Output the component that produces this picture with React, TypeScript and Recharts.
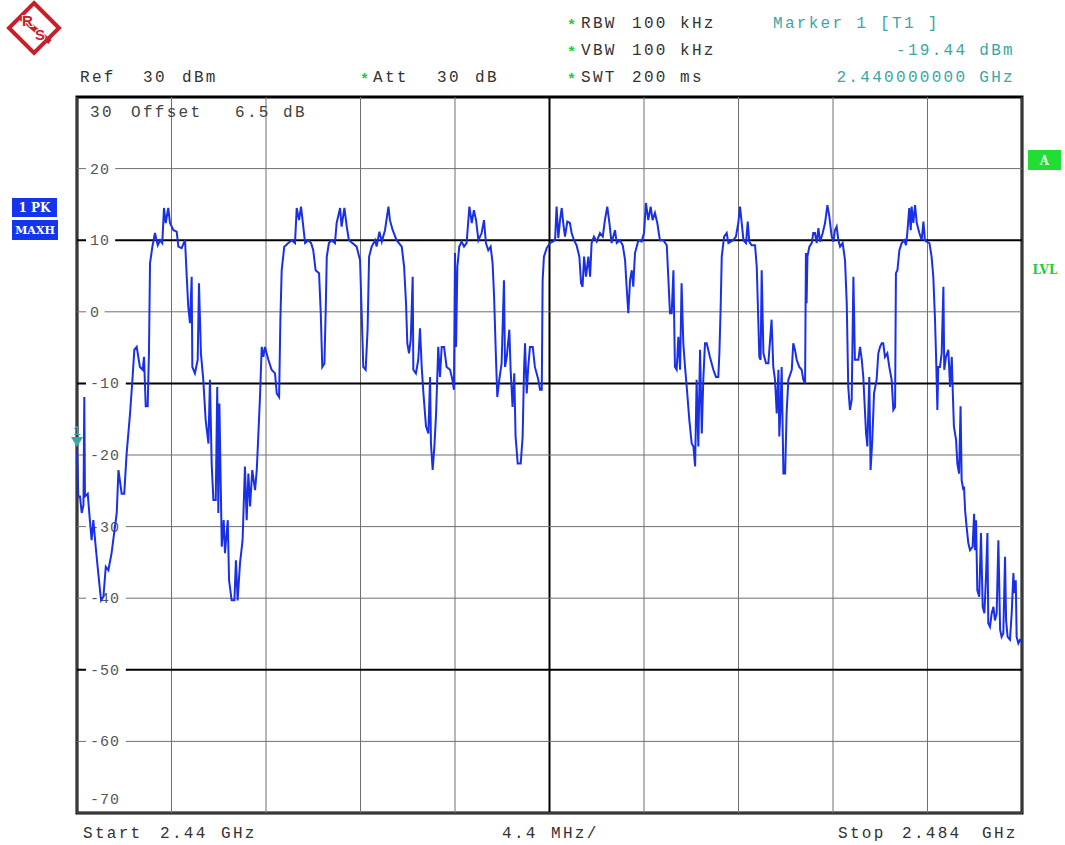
import React from "react";
import { LineChart, Line, XAxis, YAxis, ReferenceLine, ReferenceArea, ReferenceDot } from "recharts";

const START_MHZ = 2440;
const STOP_MHZ = 2484;

// trace: offset above start (MHz) and level (dBm)
const traceOffsetMHz = [
  0.0, 0.03, 0.06, 0.14, 0.22, 0.3, 0.34, 0.37, 0.5, 0.61, 0.68, 0.76, 0.87, 0.99, 1.12, 1.23, 1.34, 1.46, 1.61, 1.85,
  1.93, 2.08, 2.2, 2.31, 2.47, 2.58, 2.67, 2.78, 2.93, 3.06, 3.12, 3.2, 3.29, 3.35, 3.4, 3.51, 3.63, 3.76, 3.87, 3.97,
  4.05, 4.13, 4.25, 4.33, 4.49, 4.64, 4.72, 4.87, 5.03, 5.11, 5.18, 5.26, 5.34, 5.37, 5.49, 5.62, 5.68, 5.77, 5.88, 5.99,
  6.12, 6.19, 6.27, 6.35, 6.46, 6.53, 6.58, 6.63, 6.74, 6.83, 6.89, 7.02, 7.08, 7.2, 7.33, 7.4, 7.48, 7.59, 7.71, 7.82,
  7.9, 7.98, 8.06, 8.16, 8.29, 8.37, 8.44, 8.52, 8.6, 8.68, 8.75, 8.91, 9.06, 9.22, 9.3, 9.41, 9.47, 9.53, 9.65, 9.84,
  10.0, 10.15, 10.23, 10.34, 10.43, 10.51, 10.62, 10.77, 10.9, 11.0, 11.11, 11.27, 11.35, 11.42, 11.52, 11.58, 11.63,
  11.73, 11.86, 12.01, 12.09, 12.25, 12.32, 12.45, 12.56, 12.66, 12.82, 13.02, 13.18, 13.25, 13.33, 13.44, 13.53, 13.6,
  13.72, 13.88, 13.95, 14.08, 14.19, 14.34, 14.5, 14.57, 14.7, 14.88, 15.12, 15.23, 15.32, 15.38, 15.46, 15.54, 15.63,
  15.66, 15.78, 15.89, 15.97, 16.05, 16.13, 16.25, 16.36, 16.44, 16.48, 16.56, 16.64, 16.72, 16.82, 16.9, 16.98, 17.09,
  17.21, 17.37, 17.48, 17.55, 17.6, 17.65, 17.71, 17.8, 17.91, 18.02, 18.14, 18.27, 18.38, 18.48, 18.58, 18.69, 18.84,
  18.95, 19.04, 19.15, 19.26, 19.35, 19.42, 19.51, 19.57, 19.66, 19.77, 19.88, 19.93, 20.01, 20.13, 20.19, 20.28, 20.36,
  20.42, 20.52, 20.66, 20.75, 20.81, 20.86, 20.94, 21.01, 21.09, 21.22, 21.32, 21.48, 21.56, 21.64, 21.68, 21.74, 21.87,
  22.02, 22.15, 22.26, 22.33, 22.41, 22.49, 22.57, 22.64, 22.72, 22.83, 22.95, 23.03, 23.14, 23.26, 23.39, 23.47, 23.54,
  23.61, 23.7, 23.81, 23.89, 23.96, 24.07, 24.2, 24.35, 24.48, 24.58, 24.69, 24.79, 24.89, 25.05, 25.13, 25.28, 25.41,
  25.52, 25.59, 25.67, 25.75, 25.83, 25.9, 25.98, 26.14, 26.29, 26.4, 26.49, 26.6, 26.71, 26.8, 26.91, 27.02, 27.14,
  27.3, 27.46, 27.53, 27.61, 27.69, 27.77, 27.84, 27.92, 28.0, 28.08, 28.15, 28.23, 28.31, 28.39, 28.51, 28.62, 28.7,
  28.78, 28.85, 28.93, 29.01, 29.09, 29.16, 29.24, 29.32, 29.47, 29.63, 29.75, 29.86, 29.91, 29.97, 30.02, 30.13, 30.25,
  30.33, 30.44, 30.56, 30.68, 30.79, 30.87, 30.95, 31.03, 31.15, 31.23, 31.3, 31.41, 31.57, 31.65, 31.72, 31.77, 31.83,
  31.88, 31.96, 32.08, 32.19, 32.34, 32.42, 32.5, 32.58, 32.66, 32.7, 32.76, 32.81, 32.89, 32.97, 33.04, 33.12, 33.28,
  33.35, 33.43, 33.51, 33.63, 33.74, 33.82, 33.9, 33.94, 33.97, 34.01, 34.1, 34.21, 34.28, 34.36, 34.44, 34.52, 34.6,
  34.72, 34.83, 34.94, 35.03, 35.14, 35.22, 35.29, 35.37, 35.45, 35.53, 35.65, 35.76, 35.84, 35.91, 35.99, 36.07, 36.15,
  36.22, 36.3, 36.38, 36.46, 36.54, 36.61, 36.74, 36.8, 36.89, 36.95, 37.03, 37.11, 37.23, 37.31, 37.39, 37.47, 37.54,
  37.62, 37.73, 37.82, 37.93, 38.01, 38.09, 38.13, 38.2, 38.29, 38.4, 38.51, 38.6, 38.66, 38.75, 38.82, 38.86, 38.94,
  39.02, 39.1, 39.22, 39.33, 39.41, 39.48, 39.56, 39.69, 39.79, 39.87, 39.95, 40.0, 40.06, 40.1, 40.18, 40.26, 40.34,
  40.38, 40.46, 40.57, 40.65, 40.73, 40.77, 40.83, 40.93, 40.99, 41.07, 41.14, 41.19, 41.27, 41.3, 41.35, 41.42, 41.5,
  41.58, 41.7, 41.77, 41.81, 41.86, 41.92, 42.01, 42.09, 42.17, 42.25, 42.33, 42.39, 42.43, 42.51, 42.59, 42.67, 42.74,
  42.82, 42.9, 42.98, 43.05, 43.13, 43.21, 43.26, 43.33, 43.44, 43.52, 43.6, 43.64, 43.71, 43.75, 43.83, 43.91, 44.0,
];

const traceLevelDbm = [
  -19.4, -22, -25.8, -25.8, -28.1, -27, -11.9, -25.8, -25.4, -29.5, -31.9, -29.1, -32.8, -36.5, -40.3, -39.8, -35.6, -36.1, -33.7, -28.1,
  -22.1, -25.4, -25.4, -19.8, -14.2, -9.5, -5.3, -4.9, -7.7, -8.1, -6.3, -13.2, -13.2, -5.8, 6.8, 9.1, 11.0, 9.3, 10.0, 9.6,
  14.5, 12.4, 14.5, 12.4, 11.4, 11.2, 9.1, 8.9, 10.0, 4.9, 0.7, -1.6, 4.9, -7.7, -8.6, -6.7, 4.0, -5.8, -9.5, -15.1,
  -18.4, -9.5, -21.2, -26.3, -26.3, -10.5, -28.1, -12.8, -32.8, -29.1, -33.7, -29.1, -37.5, -40.3, -40.3, -34.7, -40.3, -35.1, -31.9, -21.6,
  -29.1, -22.6, -27.2, -22.1, -24.9, -22.1, -17.4, -11.9, -4.9, -6.3, -4.9, -6.7, -8.1, -8.6, -11.4, -11.9, -1.1, 5.8, 9.1, 9.6,
  10.0, 9.6, 14.5, 12.8, 14.7, 12.6, 9.6, 10.0, 9.6, 8.6, 5.8, 5.4, -0.2, -7.7, -7.2, 0.2, 7.7,
  9.6, 10.0, 9.6, 12.4, 14.5, 11.9, 14.5, 11.9, 10.0, 9.6, 9.1, 7.2, 0.2, -7.7, -8.1, -2.5, 7.7,
  9.1, 10.0, 9.1, 11.2, 9.8, 11.4, 14.7, 12.8, 11.4, 10.0, 9.1, 6.3, 1.2, -4.4, -5.8, -3.9, 4.9,
  -8.1, -8.6, -6.7, -2.3, -7.7, -11.4, -16.0, -17.0, -9.1, -18.4, -22.1, -18.8, -14.2, -4.9, -9.1, -4.9, -4.9,
  -7.7, -8.1, -9.5, -10.9, 8.2, -4.9, 6.3, 9.1, 9.8, 9.1, 9.6, 14.7, 12.4, 14.2, 12.8, 10.0, 11.0,
  12.8, 9.6, 8.6, 9.1, 6.8, 2.1, -6.7, -11.9, -9.5, -7.2, 4.4, -7.7, -6.3, -2.5, -8.1, -13.3, -8.6,
  -17.4, -21.2, -21.2, -17.4, -8.6, -4.4, -11.4, -7.7, -4.9, -4.9, -7.7, -9.5, -10.9, -10.9, 4.4, 7.7, 8.9,
  9.6, 9.8, 10.0, 14.7, 10.3, 12.8, 14.5, 12.4, 10.5, 12.6, 12.4, 11.0, 10.0, 9.3, 7.7, 4.0, 3.5,
  7.7, 4.9, 7.7, 4.9, 9.6, 10.5, 9.8, 11.0, 10.5, 12.8, 14.7, 12.4, 9.6, 11.4, 9.6, 10.0, 9.3,
  7.2, 3.5, -0.2, 4.4, 5.8, 3.5, 8.2, 10.0, 9.8, 11.0, 15.2, 12.8, 14.7, 12.8, 13.8, 12.4, 10.0,
  10.0, 9.3, 4.9, -0.2, -0.2, 5.8, -7.7, -8.1, -3.5, -8.1, 4.0, -4.4, -7.7, -10.5, -15.1, -18.4, -18.8,
  -21.6, -9.5, -18.8, -5.3, -17.0, -9.5, -4.4, -4.4, -6.3, -8.1, -9.1, -9.1, -5.8, 0.7, 7.7, 10.5, 11.0,
  9.6, 9.8, 10.0, 10.5, 12.4, 14.7, 12.4, 10.0, 9.6, 12.6, 9.8, 9.3, 9.3, 6.3, -1.1, -6.3, -6.7,
  5.8, -5.8, -7.2, -7.2, -1.1, -7.7, -9.5, -14.2, -8.1, -17.4, -13.3, -7.7, -22.6, -22.6, -14.2, -9.5, -8.1,
  -4.4, -5.3, -6.7, -7.7, -8.1, -9.5, -10.0, 8.2, 1.2, 7.7, 9.1, 9.6, 11.0, 11.0, 9.6, 11.7, 9.8,
  11.0, 12.4, 14.9, 13.3, 10.5, 9.8, 11.4, 11.9, 10.0, 9.1, 9.6, 7.2, 1.2, -10.5, -13.7, -12.3, 4.9,
  -6.7, -6.7, -6.7, -4.9, -6.7, -9.1, -17.0, -18.8, -9.1, -22.1, -17.9, -11.4, -9.5, -5.8, -4.9, -4.4, -4.4,
  -6.3, -5.8, -7.7, -9.5, -13.7, -13.3, 5.4, 5.8, 8.6, 9.6, 10.0, 9.3, 11.0, 14.5, 11.4, 14.7, 12.4,
  14.9, 12.4, 11.0, 10.0, 12.6, 10.0, 9.8, 9.6, 7.7, 4.9, -1.1, -6.3, -13.7, -7.7, -7.7, -5.8, 3.5,
  -8.1, -6.3, -5.3, -10.5, -6.3, -10.5, -16.0, -17.9, -21.2, -22.6, -13.2, -23.5, -24.9, -24.4, -27.7, -30.0, -32.3,
  -33.3, -32.8, -28.2, -33.3, -29.1, -38.9, -39.8, -30.9, -41.2, -42.1, -36.5, -30.9, -43.5, -44.0, -42.1, -41.2, -43.1,
  -42.1, -31.9, -44.4, -45.4, -44.9, -34.2, -43.1, -45.4, -45.8, -42.1, -36.5, -39.3, -37.5, -45.4, -46.3, -45.8, -46.0,
];

const freqTicks = [2440, 2444.4, 2448.8, 2453.2, 2457.6, 2462, 2466.4, 2470.8, 2475.2, 2479.6, 2484];
const levelTicks = [30, 20, 10, 0, -10, -20, -30, -40, -50, -60, -70];
const displayLines = [10, -10, -50];
const centerFreq = 2462;
const markerFreq = 2440;
const markerLevel = -19.44;

const traceData = traceOffsetMHz.map((o, i) => ({ freq: START_MHZ + o, level: traceLevelDbm[i] }));

const MONO = "'Liberation Mono', 'DejaVu Sans Mono', monospace";
const TEAL = "#3aa6a6";
const GREEN = "#22cc33";
const GRID = "#707070";

// level label drawn on the left end of each horizontal grid line
const levelLabel = (v: number) => (props: any) => {
  const vb = props.viewBox || {};
  const x = vb.x ?? 77;
  const y = vb.y ?? 0;
  const label = String(v);
  const ty = v === -70 ? y - 14 : y;
  return (
    <g>
      {v !== -70 && <rect x={x + 9} y={ty - 2} width={label.length * 10.6 + 8} height={4} fill="#fff" />}
      <text x={x + 13} y={ty + 5} fontFamily={MONO} fontSize={15} letterSpacing={1} fill="#555">
        {label}
      </text>
    </g>
  );
};

const MarkerShape = (props: any) => {
  const { cx, cy } = props;
  return (
    <g>
      <polygon points={`${cx - 6},${cy - 14} ${cx + 6},${cy - 14} ${cx},${cy - 4}`} fill={TEAL} />
      <text x={cx} y={cy - 16} textAnchor="middle" fontFamily={MONO} fontSize={13} fill={TEAL}>
        1
      </text>
    </g>
  );
};

function Header() {
  const t = { fontFamily: MONO, fontSize: 16, letterSpacing: 2.3, fill: "#333" } as const;
  const star = { fontFamily: MONO, fontSize: 15, fill: GREEN, fontWeight: 700 } as const;
  const logoText = {
    fontFamily: "'Liberation Sans', sans-serif",
    fontSize: 15,
    fontWeight: 700,
    fill: "#c8202a",
    stroke: "#fff",
    strokeWidth: 2,
    paintOrder: "stroke",
  } as const;
  return (
    <svg width={1065} height={845} style={{ position: "absolute", left: 0, top: 0, pointerEvents: "none" }}>
      {/* R&S logo */}
      <g>
        <polygon points="34,3 59,28 34,53 9,28" fill="#fff" stroke="#c8202a" strokeWidth={4} />
        <line x1="19" y1="16" x2="50" y2="42" stroke="#c8202a" strokeWidth={5} />
        <text x="22" y="26" {...logoText}>R</text>
        <text x="35" y="40" {...logoText}>S</text>
      </g>

      <text x={567} y={30} {...star}>*</text>
      <text x={581} y={28} {...t}>RBW</text>
      <text x={632} y={28} {...t}>100</text>
      <text x={680} y={28} {...t}>kHz</text>
      <text x={567} y={57} {...star}>*</text>
      <text x={581} y={55} {...t}>VBW</text>
      <text x={632} y={55} {...t}>100</text>
      <text x={680} y={55} {...t}>kHz</text>
      <text x={567} y={84} {...star}>*</text>
      <text x={581} y={82} {...t}>SWT</text>
      <text x={632} y={82} {...t}>200</text>
      <text x={680} y={82} {...t}>ms</text>

      <text x={80} y={82} {...t}>Ref</text>
      <text x={143} y={82} {...t}>30</text>
      <text x={182} y={82} {...t}>dBm</text>
      <text x={360} y={84} {...star}>*</text>
      <text x={373} y={82} {...t}>Att</text>
      <text x={437} y={82} {...t}>30</text>
      <text x={475} y={82} {...t}>dB</text>

      <text x={773} y={28} {...t} fill={TEAL}>Marker 1 [T1 ]</text>
      <text x={1015} y={55} {...t} fill={TEAL} textAnchor="end">-19.44 dBm</text>
      <text x={1015} y={82} {...t} fill={TEAL} textAnchor="end">2.440000000 GHz</text>

      <text x={90} y={117} {...t} fill="#444">30</text>
      <text x={131} y={117} {...t} fill="#444">Offset</text>
      <text x={235} y={117} {...t} fill="#444">6.5</text>
      <text x={283} y={117} {...t} fill="#444">dB</text>

      <text x={83} y={838} {...t}>Start</text>
      <text x={160} y={838} {...t}>2.44</text>
      <text x={221} y={838} {...t}>GHz</text>
      <text x={502} y={838} {...t}>4.4</text>
      <text x={551} y={838} {...t}>MHz/</text>
      <text x={838} y={838} {...t}>Stop</text>
      <text x={902} y={838} {...t}>2.484</text>
      <text x={982} y={838} {...t}>GHz</text>

      <rect x={12} y={198} width={45} height={19} fill="#1434ee" />
      <text x={34.5} y={212} textAnchor="middle" fontFamily="'DejaVu Serif', serif" fontWeight={700} fontSize={12} fill="#fff">
        1 PK
      </text>
      <rect x={12} y={220} width={46} height={20} fill="#1434ee" />
      <text x={35} y={234} textAnchor="middle" fontFamily="'DejaVu Serif', serif" fontWeight={700} fontSize={11} fill="#fff">
        MAXH
      </text>

      <rect x={1028} y={150} width={33} height={20} fill="#22dd33" />
      <text x={1044.5} y={165} textAnchor="middle" fontFamily="'DejaVu Serif', serif" fontWeight={700} fontSize={12} fill="#eafff0">
        A
      </text>
      <text x={1045} y={274} textAnchor="middle" fontFamily="'DejaVu Serif', serif" fontWeight={700} fontSize={12} fill={GREEN}>
        LVL
      </text>
    </svg>
  );
}

export default function App() {
  return (
    <div style={{ position: "absolute", left: 0, top: 0, width: 1065, height: 845, background: "#fff" }}>
      <LineChart width={1065} height={845} data={traceData} margin={{ top: 97, right: 43, bottom: 32, left: 77 }}>
        <XAxis
          dataKey="freq"
          type="number"
          domain={[START_MHZ, STOP_MHZ]}
          ticks={freqTicks}
          hide
        />
        <YAxis type="number" domain={[-70, 30]} ticks={levelTicks} hide />
        {freqTicks
          .filter((f) => f !== centerFreq)
          .map((f) => (
            <ReferenceLine key={`f${f}`} x={f} stroke={GRID} strokeWidth={1} />
          ))}
        <ReferenceLine x={centerFreq} stroke="#000" strokeWidth={2} />
        {levelTicks
          .filter((v) => v !== 30)
          .map((v) => (
            <ReferenceLine
              key={`l${v}`}
              y={v}
              stroke={displayLines.includes(v) ? "#000" : GRID}
              strokeWidth={displayLines.includes(v) ? 2 : 1}
              label={{ content: levelLabel(v) }}
            />
          ))}
        <Line
          dataKey="level"
          type="linear"
          stroke="#1a30e6"
          strokeWidth={2}
          dot={false}
          isAnimationActive={false}
        />
        <ReferenceArea x1={START_MHZ} x2={STOP_MHZ} y1={-70} y2={30} fill="none" stroke="#000" strokeWidth={3} />
        <ReferenceDot x={markerFreq} y={markerLevel} shape={<MarkerShape />} />
      </LineChart>
      <Header />
    </div>
  );
}
